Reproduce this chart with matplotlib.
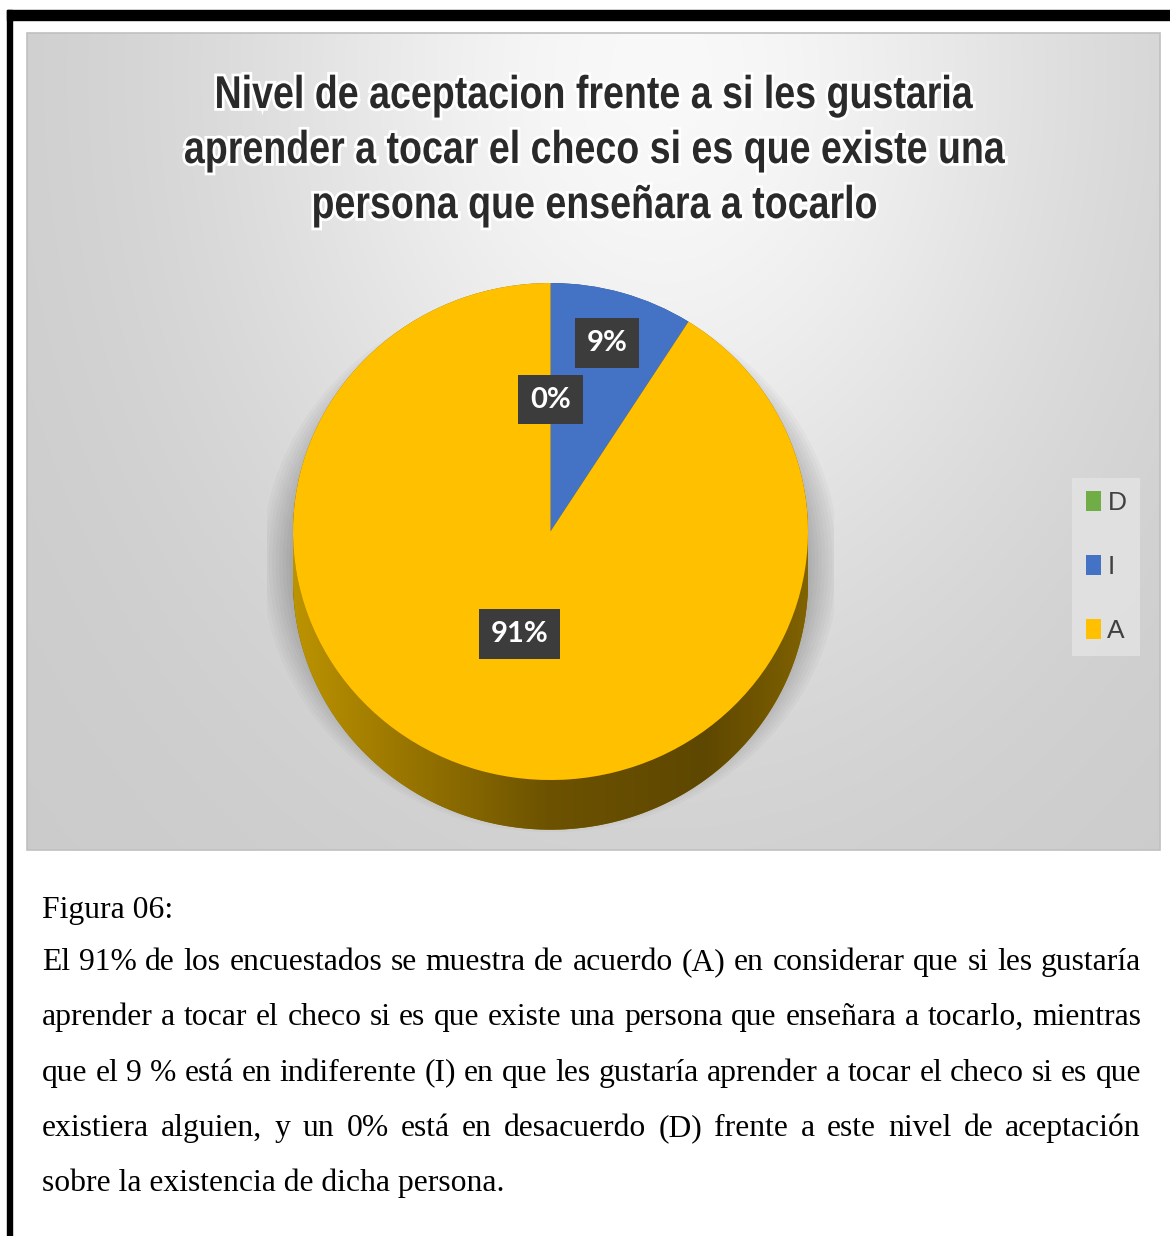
import numpy as np
import matplotlib
matplotlib.use("Agg")
import matplotlib.pyplot as plt
from matplotlib.font_manager import FontProperties
from matplotlib.patches import Rectangle, Ellipse, Polygon, PathPatch
from matplotlib.textpath import TextPath
from matplotlib.transforms import Affine2D
import matplotlib.patheffects as pe

# data
categories = ["D", "I", "A"]
percent = [0, 9, 91]
colors = ["#70AD47", "#4472C4", "#FFC000"]
side_colors = ["#3f6a2a", "#2b4c85", "#8a6a00"]
label_dist = [0.53, 0.79, 0.43]

title_lines = ["Nivel de aceptacion frente a si les gustaria",
               "aprender a tocar el checo si es que existe una",
               "persona que enseñara a tocarlo"]
caption_head = "Figura 06:"
caption_lines = [
    "El 91% de los encuestados se muestra de acuerdo (A) en considerar que si les gustaría",
    "aprender a tocar el checo si es que existe una persona que enseñara a tocarlo, mientras",
    "que el 9 % está en indiferente (I) en que les gustaría aprender a tocar el checo si es que",
    "existiera alguien, y un 0% está en desacuerdo (D) frente a este nivel de aceptación",
    "sobre la existencia de dicha persona.",
]

W, H = 1170, 1236
fig = plt.figure(figsize=(W / 100, H / 100), dpi=100)


def px_axes(x0, y0, x1, y1):
    return fig.add_axes([x0 / W, 1 - y1 / H, (x1 - x0) / W, (y1 - y0) / H])


# page + chart background
page = px_axes(0, 0, W, H)
page.set_xlim(0, W)
page.set_ylim(H, 0)
page.axis("off")
page.add_patch(Rectangle((7, 10), W - 7, 10, color="black"))
page.add_patch(Rectangle((7, 10), 5, H - 10, color="black"))

cx0, cy0, cx1, cy1 = 27, 33, 1160, 850
gx, gy = np.meshgrid(np.linspace(0, 1, 400), np.linspace(0, 1, 300))
g = 0.795 + 0.18 * np.exp(-((gx - 0.56) ** 2 / 0.15 + (gy - 0.05) ** 2 / 0.5))
page.imshow(np.dstack([g, g, g]), extent=(cx0, cx1, cy1, cy0), aspect="auto",
            interpolation="bicubic", zorder=0)
page.add_patch(Rectangle((cx0, cy0), cx1 - cx0, cy1 - cy0, fill=False,
                         edgecolor="#c0c0c0", linewidth=1.2, zorder=1))

# pie axes, top face ellipse centre (550.5, 531.5), radii 257.5 x 248.5 px
rx, ry, pcx, pcy = 257.5, 248.5, 550.5, 531.5
xl, yl = (-1.1, 1.1), (-1.28, 1.1)
ax = px_axes(pcx + xl[0] * rx, pcy - yl[1] * ry, pcx + xl[1] * rx, pcy - yl[0] * ry)
ax.patch.set_alpha(0)
depth = 0.2

# soft shadow
for k in range(10):
    ax.add_patch(Ellipse((0, -depth * 0.6), 2.0 + 0.027 * k, 2.0 + 0.02 * k,
                         color="black", alpha=0.022, linewidth=0, zorder=0))

# side of the 3D pie
for dy in np.linspace(-depth, 0, 30):
    ax.pie(percent, colors=side_colors, startangle=90, counterclock=False,
           center=(0, dy), radius=1, wedgeprops=dict(linewidth=0))

th = np.linspace(np.pi, 2 * np.pi, 200)
side_pts = np.vstack([np.c_[np.cos(th), np.sin(th)],
                      np.c_[np.cos(th[::-1]), np.sin(th[::-1]) - depth]])
side_poly = Polygon(side_pts, closed=True, facecolor="none", edgecolor="none",
                    transform=ax.transData)
ax.add_patch(side_poly)
sx = np.linspace(0, 1, 300)
stops_x = [0.0, 0.2, 0.5, 0.8, 1.0]
stops_c = np.array([[0xbc, 0x93, 0x00], [0x9c, 0x78, 0x00], [0x6c, 0x52, 0x00],
                    [0x5e, 0x47, 0x00], [0x80, 0x62, 0x00]]) / 255
grad = np.stack([np.interp(sx, stops_x, stops_c[:, c]) for c in range(3)], axis=-1)
grad = np.repeat(grad[None, :, :], 20, axis=0)
im = ax.imshow(grad, extent=(-1, 1, -1 - depth, 0), aspect="auto", zorder=2)
im.set_clip_path(side_poly)

wedges, _ = ax.pie(percent, colors=colors, startangle=90, counterclock=False,
                   radius=1, wedgeprops=dict(linewidth=0))
for w in wedges:
    w.set_zorder(3)

for w, p, dist in zip(wedges, percent, label_dist):
    ang = np.deg2rad((w.theta1 + w.theta2) / 2)
    ax.text(dist * np.cos(ang), dist * np.sin(ang), f"{p}%", ha="center", va="center",
            fontsize=21, fontweight="bold", family=["Lato", "DejaVu Sans"], color="white",
            zorder=5,
            bbox=dict(boxstyle="square,pad=0.4", facecolor="#3c3c3c", edgecolor="none"))

ax.set_aspect("auto")
ax.set_xlim(*xl)
ax.set_ylim(*yl)
ax.axis("off")

leg = fig.legend(wedges, categories, loc="center",
                 bbox_to_anchor=(1106 / W, 1 - 567 / H), frameon=True,
                 prop=dict(family="Liberation Sans", size=19),
                 labelspacing=1.5, handlelength=0.58, handleheight=0.8,
                 handletextpad=0.25, borderpad=0.5, borderaxespad=0, fancybox=False)
leg.get_frame().set_facecolor("#e4e4e4")
leg.get_frame().set_edgecolor("none")
for t in leg.get_texts():
    t.set_color("#404040")

# overlay for texts, pixel coordinates
top = px_axes(0, 0, W, H)
top.set_xlim(0, W)
top.set_ylim(H, 0)
top.axis("off")
top.patch.set_alpha(0)

# condensed bold title (narrow font not installed, so squeeze the glyph outlines)
title_fp = FontProperties(family="Liberation Sans", weight="bold")
paths = [TextPath((0, 0), s, size=46, prop=title_fp) for s in title_lines]
squeeze = 820 / paths[1].get_extents().width
for tp, base in zip(paths, [108, 163, 218]):
    bb = tp.get_extents()
    tr = (Affine2D().translate(-(bb.x0 + bb.width / 2), 0).scale(squeeze, -1)
          .translate(595, base) + top.transData)
    top.add_patch(PathPatch(tp, transform=tr, facecolor="#2a2a2a", edgecolor="none",
                            path_effects=[pe.withStroke(linewidth=4, foreground="white")]))

serif = ["Liberation Serif", "DejaVu Serif"]
fs = 22.8
top.text(42, 918, caption_head, ha="left", va="baseline", fontsize=fs, family=serif)

renderer = fig.canvas.get_renderer()
left, right = 42, 1141
base = 970
for i, line in enumerate(caption_lines):
    y = base + i * 55.3
    words = line.split(" ")
    if i == len(caption_lines) - 1:
        top.text(left, y, line, ha="left", va="baseline", fontsize=fs, family=serif)
        continue
    arts = [top.text(0, y, w, ha="left", va="baseline", fontsize=fs, family=serif)
            for w in words]
    widths = [a.get_window_extent(renderer).width for a in arts]
    gap = (right - left - sum(widths)) / (len(words) - 1)
    x = left
    for a, wd in zip(arts, widths):
        a.set_x(x)
        x += wd + gap

fig.savefig("out.png", dpi=100)
